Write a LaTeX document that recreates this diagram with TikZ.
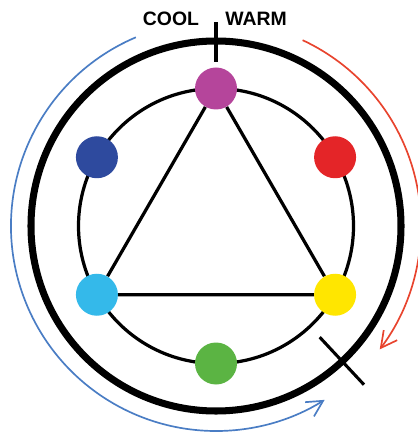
\documentclass[tikz,border=0pt]{standalone}
\usepackage{fontspec}
\setsansfont{Liberation Sans}
\usepackage{tikz}
\usetikzlibrary{arrows.meta}
\usetikzlibrary{backgrounds}
\definecolor{dotmagenta}{RGB}{181,69,155}
\definecolor{dotblue}{RGB}{46,74,158}
\definecolor{dotred}{RGB}{228,37,40}
\definecolor{dotcyan}{RGB}{52,185,234}
\definecolor{dotyellow}{RGB}{255,230,0}
\definecolor{dotgreen}{RGB}{91,180,67}
\definecolor{arcblue}{RGB}{74,125,196}
\definecolor{arcred}{RGB}{232,68,46}
\tikzset{colordot/.style={circle, fill=#1, minimum size=10.5mm, inner sep=0pt}}
\tikzset{flowarrow/.style={line width=1.2pt, -{Straight Barb[length=4mm,width=4.2mm]}}}
\tikzset{sidelabel/.style={font=\sffamily\bfseries\fontsize{13.8}{14}\selectfont}}

\begin{document}
\begin{tikzpicture}[x=0.25mm, y=0.25mm]
        \useasboundingbox (-216,-214) rectangle (202,226);

        % Colour dots on the inner circle
        \node[colordot=dotmagenta] (magenta) at (90:137.5) {};
        \node[colordot=dotblue] (blue) at (150:137.5) {};
        \node[colordot=dotcyan] (cyan) at (210:137.5) {};
        \node[colordot=dotgreen] (green) at (270:137.5) {};
        \node[colordot=dotyellow] (yellow) at (330:137.5) {};
        \node[colordot=dotred] (red) at (30:137.5) {};

        % Inner circle and triangle behind the dots
        \begin{scope}[on background layer]
            \draw[line width=2.3pt] (0,0) circle[radius=137.5];
            \draw[line width=2.3pt] (magenta) -- (cyan) -- (yellow) -- (magenta);
        \end{scope}

        % Outer wheel and the two split marks
        \draw[line width=5pt] (0,0) circle[radius=185];
        \draw[line width=2.2pt] (90:164) -- (90:204);
        \draw[line width=2.2pt] (-47:152) -- (-47:217);

        % Labels
        \node[sidelabel] (cool) at (-45,207) {COOL};
        \node[sidelabel] (warm) at (40,207) {WARM};

        % Cool and warm directions
        \draw[flowarrow, arcblue] (113:205) arc[start angle=113, end angle=302, radius=205];
        \draw[flowarrow, arcred] (65:205) arc[start angle=65, end angle=-37, radius=205];
    \end{tikzpicture}
\end{document}
